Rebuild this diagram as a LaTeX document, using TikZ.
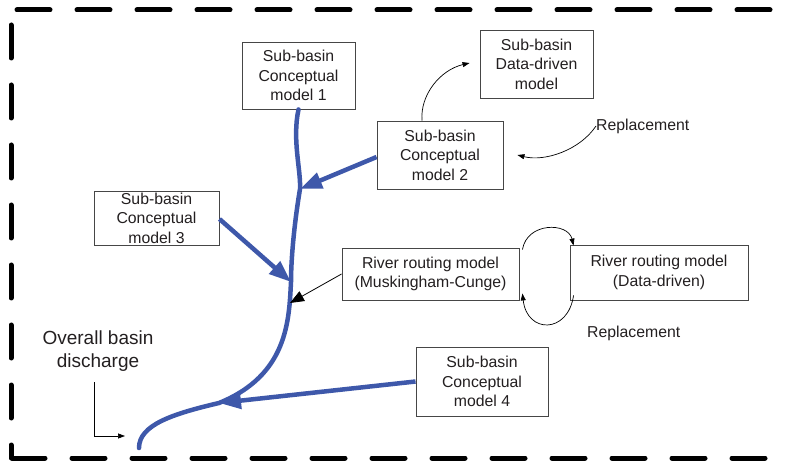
\documentclass[tikz,border=0pt]{standalone}
\usepackage{fontspec}
\setmainfont{Liberation Sans}
\usetikzlibrary{arrows.meta,calc}
\definecolor{riverblue}{RGB}{62,88,170}
\definecolor{txt}{RGB}{35,31,32}
\definecolor{boxline}{RGB}{70,70,70}
\begin{document}
\begin{tikzpicture}[x=1pt,y=-1pt,
  every node/.style={font=\fontsize{15.8}{19.5}\selectfont, text=txt},
  mbox/.style={draw=boxline, line width=0.9pt, fill=white, align=center, inner sep=0pt},
  border/.style={line width=5pt, line cap=round, dash pattern=on 33pt off 27pt},
  river/.style={draw=riverblue, line width=4.5pt, line cap=round},
  feeder/.style={draw=riverblue, line width=4.5pt, -{Triangle[length=22pt,width=16pt]}},
  thinarrow/.style={draw=black, line width=0.7pt, -{Triangle[length=7pt,width=5pt]}},
  ptr/.style={draw=black, line width=0.8pt, -{Triangle[length=14pt,width=11pt]}}
]
\useasboundingbox (0,0) rectangle (790,462);
% border
\draw[border] (17,10) -- (790,10);
\draw[border] (11,25) -- (11,458);
\draw[border, dash phase=0pt] (12,458) -- (790,458);

% boxes
\node[mbox, minimum width=113pt, minimum height=67pt] (b1) at (298.5,75.5) {Sub-basin\\Conceptual\\model 1};
\node[mbox, minimum width=113pt, minimum height=68pt] (dd) at (536.5,64) {Sub-basin\\Data-driven\\model};
\node[mbox, minimum width=126pt, minimum height=68pt] (b2) at (440,155) {Sub-basin\\Conceptual\\model 2};
\node[mbox, minimum width=125pt, minimum height=54pt] (b3) at (156.5,218) {Sub-basin\\Conceptual\\model 3};
\node[mbox, minimum width=177pt, minimum height=52pt] (mc) at (430.5,274) {River routing model\\(Muskingham-Cunge)};
\node[mbox, minimum width=178pt, minimum height=55pt] (rdd) at (659,272.5) {River routing model\\(Data-driven)};
\node[mbox, minimum width=132pt, minimum height=69pt] (b4) at (482,381.5) {Sub-basin\\Conceptual\\model 4};

% labels
\node[anchor=west, inner sep=0pt] (rep1) at (596,126) {Replacement};
\node[anchor=west, inner sep=0pt] (rep2) at (587,333) {Replacement};
\node[align=center, inner sep=0pt, font=\fontsize{19}{23}\selectfont] (out) at (98,351) {Overall basin\\discharge};

% junction coordinates on river
\coordinate (j2) at (300,189);
\coordinate (j3) at (291,282);
\coordinate (jm) at (290,303);
\coordinate (j4) at (219,403);
\coordinate (outlet) at (139,448);
\coordinate (outstart) at (94,382);
\coordinate (outtip) at (125,436);

% river
\draw[river] (b1.south) .. controls (292,140) and (301,170) .. (j2)
  .. controls (294,225) and (291,260) .. (j3)
  .. controls (289,320) and (288,375) .. (j4)
  .. controls (172,414) and (139,425) .. (outlet);

% feeders
\draw[feeder] ([yshift=-2pt]b2.west) -- (j2);
\draw[feeder] ([yshift=-1pt]b3.east) -- (j3);
\draw[feeder] (b4.west) -- (j4);
\draw[ptr] (mc.west) -- (jm);

% replacement arrows
\draw[thinarrow] ([xshift=-18pt]b2.north) .. controls (420,95) and (440,70) .. ([xshift=-10pt,yshift=1pt]dd.west);
\draw[thinarrow] (rep1.west) .. controls (580,150) and (545,162) .. ([xshift=14pt]b2.east);
\draw[thinarrow] ([xshift=3pt,yshift=-2pt]mc.north east) .. controls (527,222) and (568,222) .. ([xshift=4pt,yshift=-1pt]rdd.north west);
\draw[thinarrow] ([xshift=4pt,yshift=5pt]rdd.south west) .. controls (568,334) and (527,334) .. ([xshift=3pt,yshift=7pt]mc.south east);

% outlet pointer
\draw[thinarrow] (outstart) |- (outtip);
\end{tikzpicture}
\end{document}
